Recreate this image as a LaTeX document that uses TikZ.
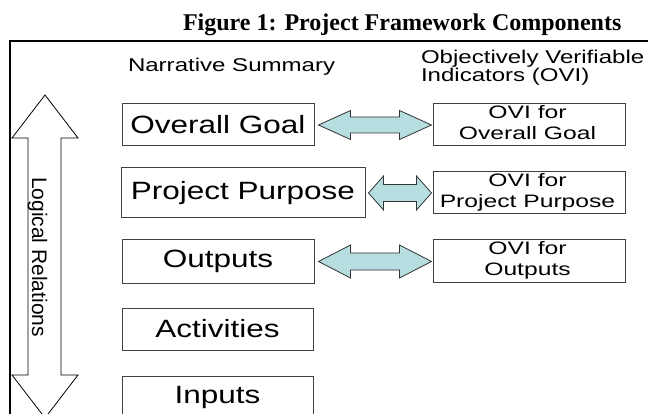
\documentclass[tikz,border=0pt]{standalone}
\usepackage{fontspec}
\usepackage{graphicx}
\setmainfont{Liberation Sans}
\newfontfamily\titlefont{Liberation Serif}
\usetikzlibrary{calc}
\definecolor{arrowcyan}{HTML}{B6DEE1}
\definecolor{boxline}{HTML}{404040}
\newcommand{\bigtxt}[1]{\raisebox{-2pt}{\scalebox{1.26}[1]{\fontsize{25pt}{30pt}\selectfont #1}}}
\newcommand{\smalltxt}[2]{\hspace*{-3pt}\raisebox{-2.5pt}{\scalebox{1.37}[1]{\fontsize{18pt}{21pt}\selectfont\begin{tabular}{@{}c@{}}#1\\#2\end{tabular}}}}
\newcommand{\headtxt}[1]{\scalebox{1.3}[1]{\fontsize{18.5pt}{22pt}\selectfont #1}}
% block double arrow between two nodes: #1 left node, #2 right node, #3 left gap, #4 right gap, #5 head length, #6 head half height, #7 shaft half height
\newcommand{\blockarrow}[7]{%
  \filldraw[fill=arrowcyan, draw=black!80, line width=0.8pt, line join=miter]
    let \p1=($(#1.east)+(#3pt,0)$), \p2=($(#2.west)+(-#4pt,0)$) in
    (\x1,\y1) -- (\x1+#5pt,\y1+#6pt) -- (\x1+#5pt,\y1+#7pt) -- (\x2-#5pt,\y1+#7pt)
    -- (\x2-#5pt,\y1+#6pt) -- (\x2,\y1) -- (\x2-#5pt,\y1-#6pt) -- (\x2-#5pt,\y1-#7pt)
    -- (\x1+#5pt,\y1-#7pt) -- (\x1+#5pt,\y1-#6pt) -- cycle;}
\tikzset{
  bigbox/.style={draw=boxline, line width=1pt, fill=white, inner sep=0pt},
  ovibox/.style={draw=boxline, line width=1pt, fill=white, inner sep=0pt, minimum width=192pt},
  plain/.style={inner sep=0pt, outer sep=0pt}
}
\begin{document}
\begin{tikzpicture}[x=1pt,y=-1pt]
\useasboundingbox (0,0) rectangle (648,414);
\clip (0,0) rectangle (648,414);
\fill[white] (0,0) rectangle (648,414);
% title
\node[plain, anchor=base west] (title) at (183,31) {\titlefont\bfseries\fontsize{24pt}{28pt}\selectfont Figure 1: Project Framework Components};
% frame
\draw[line width=2.5pt] (10,440) -- (10,41) -- (670,41);
% headers
\node[plain, anchor=base west] (nar) at (128,72) {\headtxt{Narrative Summary}};
\node[plain, anchor=base west] (ovih1) at (421,64) {\headtxt{Objectively Verifiable}};
\node[plain, anchor=base west] (ovih2) at (421,82) {\headtxt{Indicators (OVI)}};
% left logical arrow
\filldraw[fill=white, draw=black, line width=0.8pt, line join=miter]
  (45,95) -- (12,138) -- (28,138) -- (28,375) -- (12,375) -- (45,418)
  -- (78,375) -- (61,375) -- (61,138) -- (78,138) -- cycle;
\node[plain, rotate=-90, anchor=base] (logic) at (32,257) {\fontsize{21pt}{24pt}\selectfont Logical Relations};
% narrative boxes
\node[bigbox, minimum width=192pt, minimum height=42pt] (og) at (218,125) {\bigtxt{Overall Goal}};
\node[bigbox, minimum width=244pt, minimum height=50pt] (pp) at (243,193) {\bigtxt{Project Purpose}};
\node[bigbox, minimum width=192pt, minimum height=43pt] (out) at (218,261.5) {\bigtxt{Outputs}};
\node[bigbox, minimum width=191pt, minimum height=42pt] (act) at (217.5,329) {\bigtxt{Activities}};
\node[bigbox, minimum width=191pt, minimum height=42pt] (inp) at (217.5,397) {\bigtxt{Inputs}};
% OVI boxes
\node[ovibox, minimum height=42pt] (o1) at (529,125) {\smalltxt{OVI for}{Overall Goal}};
\node[ovibox, minimum height=41pt] (o2) at (529,192.5) {\smalltxt{OVI for}{Project Purpose}};
\node[ovibox, minimum height=42pt] (o3) at (529,261) {\smalltxt{OVI for}{Outputs}};
% connectors
\blockarrow{og}{o1}{4}{1}{32}{14.5}{8}
\blockarrow{pp}{o2}{3}{1}{15}{17}{8.5}
\blockarrow{out}{o3}{4}{1}{32}{16.5}{8.5}
\end{tikzpicture}
\end{document}
